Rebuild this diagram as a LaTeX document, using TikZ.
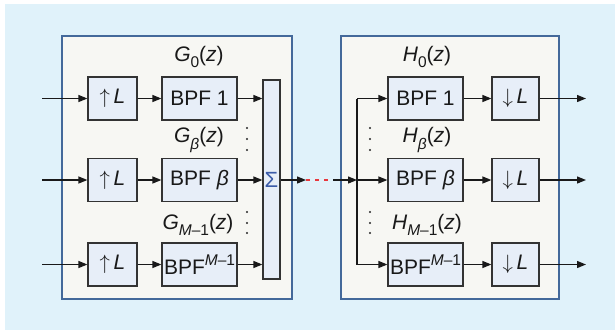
\documentclass[tikz,border=0pt]{standalone}
\usepackage{fontspec}
\setmainfont{Liberation Sans}
\usetikzlibrary{arrows.meta}
\definecolor{bgblue}{HTML}{E0F2FA}
\definecolor{panel}{HTML}{F7F7F3}
\definecolor{panelborder}{HTML}{44699A}
\definecolor{blockfill}{HTML}{E7EEF8}
\definecolor{blockborder}{HTML}{333333}
\definecolor{sigmablue}{HTML}{3B5BA8}
\definecolor{reddash}{HTML}{E8383D}
\newcommand{\mysub}[1]{\raisebox{-0.32em}{\fontsize{15.5}{15}\selectfont #1}}
\newcommand{\mysup}[1]{\raisebox{0.42em}{\fontsize{15.5}{15}\selectfont #1}}
\tikzset{
  panelbox/.style={draw=panelborder, line width=1.5pt, fill=panel},
  block/.style={draw=blockborder, line width=1.2pt, fill=blockfill, inner sep=0pt,
    font=\fontsize{21}{24}\selectfont, text=black!90},
  lbl/.style={inner sep=0pt, font=\fontsize{21}{24}\selectfont, text=black!90},
  conn/.style={line width=1.2pt, draw=black!90},
  arr/.style={conn, -{Triangle[length=9pt,width=7pt]}},
  dotc/.style={fill=black!85}
}
\begin{document}
\begin{tikzpicture}[x=1pt,y=-1pt]
\useasboundingbox (0,0) rectangle (615,330);
\fill[bgblue] (5,4) rectangle (615,330);
\draw[panelbox] (62,36) rectangle (292,299);
\draw[panelbox] (341,36) rectangle (559,299);

% left side blocks
\foreach \r/\y in {1/98.5,2/180,3/264.5}{
  \node[block, minimum width=49pt, minimum height=43pt] (up\r) at (112.5,\y) {$\uparrow$\,\textit{L}};
  \coordinate (in\r) at (42,\y);
}
\node[block, minimum width=75pt, minimum height=43pt] (g1) at (199.5,98.5) {BPF 1};
\node[block, minimum width=75pt, minimum height=43pt] (g2) at (199.5,180) {BPF \textit{β}};
\node[block, minimum width=75pt, minimum height=43pt] (g3) at (199.5,264.5) {BPF\mysup{\textit{M}–1}};
\node[block, minimum width=17pt, minimum height=199pt] (sig) at (271.5,179.5) {\textcolor{sigmablue}{\fontsize{22}{24}\selectfont Σ}};

\node[lbl] (lg1) at (199,57) {\textit{G}\mysub{0}(\textit{z})};
\node[lbl] (lg2) at (199,140) {\textit{G}\mysub{\textit{β}}(\textit{z})};
\node[lbl] (lg3) at (198,225) {\textit{G}\mysub{\textit{M}–1}(\textit{z})};

\foreach \y in {128,139,150,212,223,233}{
  \fill[dotc] (247,\y) circle (1.1pt);
  \fill[dotc] (370,\y) circle (1.1pt);
}

\foreach \r in {1,2,3}{
  \draw[arr] (in\r) -- (up\r);
  \draw[arr] (up\r) -- (g\r);
  \draw[arr] (g\r) -- (g\r -| sig.west);
}

% link
\coordinate (a1) at (306,180);
\coordinate (a2) at (333,180);
\coordinate (J) at (357,180);
\draw[arr] (sig.east |- a1) -- (a1);
\draw[line width=1.2pt, reddash, dash pattern=on 4pt off 5pt] (a1) -- (a2);
\draw[arr] (a2) -- (J);

% right side
\node[block, minimum width=75pt, minimum height=43pt] (h1) at (425.5,98.5) {BPF 1};
\node[block, minimum width=75pt, minimum height=43pt] (h2) at (425.5,180) {BPF \textit{β}};
\node[block, minimum width=75pt, minimum height=43pt] (h3) at (425.5,264.5) {BPF\mysup{\textit{M}–1}};
\foreach \r/\y in {1/98.5,2/180,3/264.5}{
  \node[block, minimum width=47pt, minimum height=43pt] (dn\r) at (515.5,\y) {$\downarrow$\,\textit{L}};
  \coordinate (out\r) at (586,\y);
  \coordinate (j\r) at (357,\y);
}
\node[lbl] (lh1) at (427,57) {\textit{H}\mysub{0}(\textit{z})};
\node[lbl] (lh2) at (427,140) {\textit{H}\mysub{\textit{β}}(\textit{z})};
\node[lbl] (lh3) at (427,225) {\textit{H}\mysub{\textit{M}–1}(\textit{z})};

\draw[conn] (j1) -- (j3);
\foreach \r in {1,2,3}{
  \draw[arr] (j\r) -- (h\r);
  \draw[arr] (h\r) -- (dn\r);
  \draw[arr] (dn\r) -- (out\r);
}
\end{tikzpicture}
\end{document}
